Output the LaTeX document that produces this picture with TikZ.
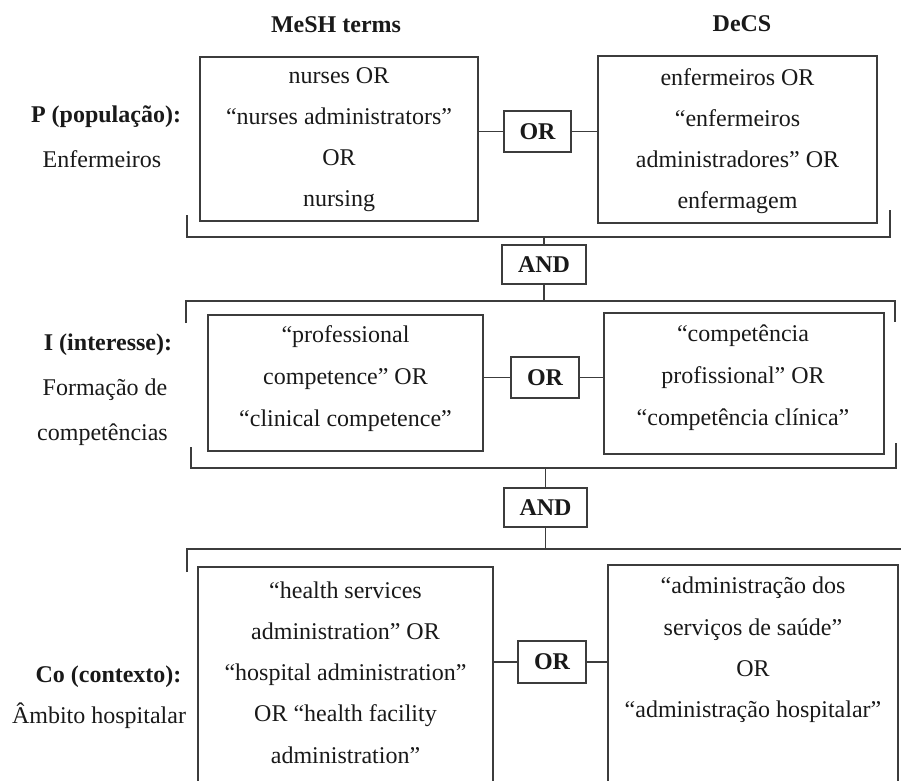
\documentclass[tikz,border=0pt]{standalone}
\usepackage{fontspec}
\setmainfont{Liberation Serif}
\definecolor{linec}{RGB}{60,60,60}
\definecolor{txtc}{RGB}{25,25,25}
\begin{document}
\begin{tikzpicture}[x=1pt,y=-1pt,
  box/.style={draw=linec, line width=1.5pt, inner sep=0pt, anchor=center},
  txt/.style={text=txtc, font=\fontsize{24}{41}\selectfont, align=center, inner sep=0pt, anchor=center},
  lbl/.style={text=txtc, font=\fontsize{24}{29}\selectfont, inner sep=0pt, anchor=base},
  blbl/.style={lbl, font=\bfseries\fontsize{24}{29}\selectfont},
  opbox/.style={box, text=txtc, font=\bfseries\fontsize{24}{29}\selectfont},
  wire/.style={draw=linec, line width=1.5pt}]
\useasboundingbox (0,0) rectangle (901,780);
\clip (0,0) rectangle (901,780);

% column titles
\node[blbl] (tmesh) at (336,32) {MeSH terms};
\node[blbl] (tdecs) at (742,31) {DeCS};

% left labels
\node[blbl] (lp1) at (106,122) {P (população):};
\node[lbl]  (lp2) at (102,167) {Enfermeiros};
\node[blbl] (li1) at (108,350) {I (interesse):};
\node[lbl]  (li2) at (105,395) {Formação de};
\node[lbl]  (li3) at (102.5,440) {competências};
\node[blbl] (lc1) at (108.5,682) {Co (contexto):};
\node[lbl]  (lc2) at (99,723) {Âmbito hospitalar};

% boxes
\node[box, minimum width=278pt, minimum height=164pt] (pm) at (339,139) {};
\node[box, minimum width=279pt, minimum height=167pt] (pd) at (737.5,139.5) {};
\node[opbox, minimum width=67pt, minimum height=41pt] (or1) at (537.5,131.5) {OR};
\node[opbox, minimum width=84pt, minimum height=39pt] (and1) at (544,264.5) {AND};

\node[box, minimum width=275pt, minimum height=136pt] (im) at (345.5,383) {};
\node[box, minimum width=280pt, minimum height=141pt] (id) at (744,383.5) {};
\node[opbox, minimum width=68pt, minimum height=41pt] (or2) at (545,377.5) {OR};
\node[opbox, minimum width=83pt, minimum height=39pt] (and2) at (545.5,507.5) {AND};

\node[box, minimum width=295pt, minimum height=233pt] (cm) at (345.5,683.5) {};
\node[box, minimum width=290pt, minimum height=235pt] (cd) at (753,682.5) {};
\node[opbox, minimum width=68pt, minimum height=42pt] (or3) at (552,662) {OR};

% box texts
\node[txt] (pmt) at (339,139.5) {nurses OR\\“nurses administrators”\\OR\\nursing};
\node[txt] (pdt) at (737.5,141) {enfermeiros OR\\“enfermeiros\\administradores” OR\\enfermagem};
\node[txt, font=\fontsize{24}{42}\selectfont] (imt) at (345.5,379) {“professional\\competence” OR\\“clinical competence”};
\node[txt, font=\fontsize{24}{42}\selectfont] (idt) at (743,378) {“competência\\profissional” OR\\“competência clínica”};
\node[txt, font=\fontsize{24}{41.25}\selectfont] (cmt) at (345.5,672.5) {“health services\\administration” OR\\“hospital administration”\\OR “health facility\\administration”};
\node[txt, font=\fontsize{24}{41.3}\selectfont] (cdt) at (753,650) {“administração dos\\serviços de saúde”\\OR\\“administração hospitalar”};

% OR connectors
\draw[wire] (pm.east |- or1.center) -- (or1.west);
\draw[wire] (or1.east) -- (pd.west |- or1.center);
\draw[wire] (im.east |- or2.center) -- (or2.west);
\draw[wire] (or2.east) -- (id.west |- or2.center);
\draw[wire] (cm.east |- or3.center) -- (or3.west);
\draw[wire] (or3.east) -- (cd.west |- or3.center);

% brackets
\coordinate (pbL) at (187,215);
\coordinate (pbR) at (890,210);
\coordinate (pbY) at (544,237);
\draw[wire] (pbL) |- (pbY) -| (pbR);
\draw[wire] (and1.north) -- (and1.north |- pbY);

\coordinate (itL) at (186,323);
\coordinate (itR) at (895,322);
\coordinate (itY) at (544,301);
\draw[wire] (itL) |- (itY) -| (itR);
\draw[wire] (and1.south) -- (and1.south |- itY);

\coordinate (ibL) at (191,447);
\coordinate (ibR) at (896,443);
\coordinate (ibY) at (545,468);
\draw[wire] (ibL) |- (ibY) -| (ibR);
\draw[wire] (and2.north) -- (and2.north |- ibY);

\coordinate (ctL) at (187,572);
\coordinate (ctR) at (910,549);
\draw[wire] (ctL) |- (ctR);
\draw[wire] (and2.south) -- (and2.south |- ctR);
\end{tikzpicture}
\end{document}
